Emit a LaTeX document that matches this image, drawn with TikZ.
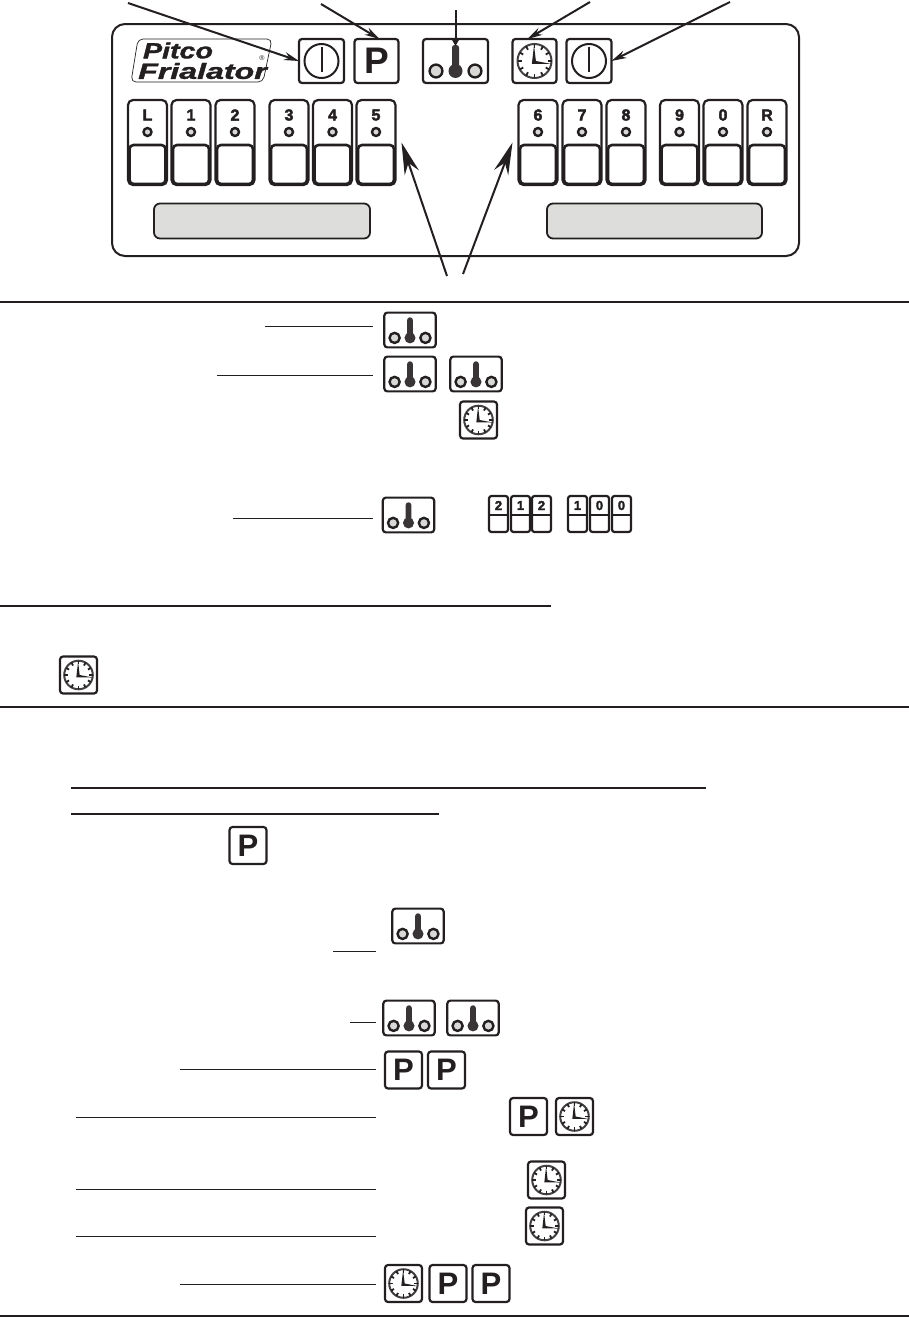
\documentclass[tikz,border=0pt]{standalone}
\usepackage{fontspec}
\setmainfont{Liberation Sans}
\newfontfamily\heavyfont[RawFeature={embolden=2.6}]{Liberation Sans Bold}
\newfontfamily\logofont[RawFeature={embolden=1.4}]{Liberation Sans Bold Italic}
\usetikzlibrary{arrows.meta}

\definecolor{inkdark}{HTML}{231F20}
\definecolor{bardgrey}{HTML}{DDDEDC}
\definecolor{ledgrey}{HTML}{D8D9D7}

\tikzset{
  keybox/.style={draw=inkdark, line width=2.2pt, rounded corners=3pt, inner sep=0pt, outer sep=0pt, transform shape},
  rulethick/.style={draw=inkdark, line width=2pt},
  leader/.style={draw=inkdark, line width=1pt},
  pointer/.style={draw=inkdark, line width=2pt, -{Stealth[length=15pt,width=8pt]}},
  shortpointer/.style={draw=inkdark, line width=2pt, -{Stealth[length=8pt,width=9pt]}},
  bigpointer/.style={draw=inkdark, line width=2pt, -{Stealth[length=32pt,width=15pt]}},
  digitlabel/.style={inner sep=0pt, text=inkdark, font=\heavyfont\fontsize{16}{16}\selectfont},
  logolabel/.style={inner sep=0pt, text=inkdark, transform shape, font=\logofont\fontsize{22}{22}\selectfont},
  pics/powerkey/.style={code={
    \node[keybox, minimum width=45pt, minimum height=44pt] (-box) at (0,0) {};
    \draw[inkdark, line width=2pt] (0,0) circle (17);
    \draw[inkdark, line width=2pt] (0,-14) -- (0,11);
  }},
  pics/progkey/.style={code={
    \node[keybox, minimum width=44pt, minimum height=44pt, text=inkdark, font=\bfseries\fontsize{37}{37}\selectfont] (-box) at (0,0) {P};
  }},
  pics/thermokey/.style={code={
    \node[keybox, minimum width=65pt, minimum height=44pt] (-box) at (0,0) {};
    \fill[inkdark!90, rounded corners=2.5pt] (-3.5,-16) rectangle (3.5,12);
    \fill[inkdark!90] (0,10) circle (7);
    \draw[inkdark, fill=ledgrey, line width=2.4pt] (-19.5,10) circle (6.4);
    \draw[inkdark, fill=ledgrey, line width=2.4pt] (19.5,10) circle (6.4);
  }},
  pics/clockkey/.style={code={
    \node[keybox, minimum width=44pt, minimum height=44pt] (-box) at (0,0) {};
    \draw[inkdark!85, line width=2pt] (0,0) circle (17);
    \foreach \a in {0,30,...,330} \draw[inkdark, line width=1.8pt] (\a:13) -- (\a:17);
    \fill[inkdark] (-2.6,2.8) -- (-0.5,-16) -- (1.4,0) -- (17,3) -- cycle;
  }},
  pics/numkey/.style={code={
    \node[keybox, minimum width=39pt, minimum height=85pt, rounded corners=5pt] (-box) at (0,0) {};
    \node[digitlabel] (-txt) at (0,-27.5) {#1};
    \draw[inkdark, fill=ledgrey, line width=2.4pt] (0,-10.5) circle (4);
    \draw[inkdark, line width=2.6pt, rounded corners=4pt] (-18,2.5) rectangle (18,41.5);
  }},
  pics/smallnum/.style={code={
    \node[keybox, minimum width=19pt, minimum height=36pt, rounded corners=2.5pt] (-box) at (0,0) {};
    \node[digitlabel, font=\heavyfont\fontsize{13}{13}\selectfont] (-txt) at (0,-8.5) {#1};
    \draw[inkdark, line width=1.8pt] (-9,1) -- (9,1);
  }},
}

\begin{document}
\begin{tikzpicture}[x=1pt,y=-1pt]
\useasboundingbox (0,0) rectangle (909,1317);

\draw[inkdark, line width=2pt, rounded corners=13pt] (112,24) rectangle (799,256);
\fill[bardgrey, draw=inkdark, line width=1.8pt, rounded corners=6pt] (154,203.5) rectangle (370,238.5);
\fill[bardgrey, draw=inkdark, line width=1.8pt, rounded corners=6pt] (547,203.5) rectangle (762,238.5);

\draw[inkdark, line width=0.7pt, rounded corners=5pt] (138,39) -- (272,39) -- (263,82) -- (131,82) -- cycle;
\node[logolabel, xscale=1.3] (logotop) at (178,50.5) {Pitco};
\node[logolabel, xscale=1.46] (logobottom) at (202.5,71) {Frialator};
\node[inner sep=0pt, text=inkdark, font=\fontsize{7}{7}\selectfont] (logomark) at (262,58) {®};

\pic (pw0) at (321.5,61) {powerkey};
\pic (p0) at (376.5,61) {progkey};
\pic (th0) at (455.5,61) {thermokey};
\pic (c0) at (534.5,61) {clockkey};
\pic (pw1) at (589,61) {powerkey};

\pic (kL) at (147.5,142.5) {numkey=L};
\pic (k1) at (191,142.5) {numkey=1};
\pic (k2) at (235,142.5) {numkey=2};
\pic (k3) at (289,142.5) {numkey=3};
\pic (k4) at (332.5,142.5) {numkey=4};
\pic (k5) at (376,142.5) {numkey=5};
\pic (k6) at (538,142.5) {numkey=6};
\pic (k7) at (582,142.5) {numkey=7};
\pic (k8) at (626,142.5) {numkey=8};
\pic (k9) at (679.5,142.5) {numkey=9};
\pic (k0) at (723,142.5) {numkey=0};
\pic (kR) at (767,142.5) {numkey=R};

\coordinate (a1) at (128,3);
\coordinate (a2) at (321,4);
\coordinate (a3) at (455.5,10);
\coordinate (a4) at (590,2);
\coordinate (a5) at (730,2);
\coordinate (a6) at (447,276);
\coordinate (a7) at (463,274);
\draw[pointer] (a1) -- (pw0-box.west);
\draw[pointer] (a2) -- ([xshift=3pt]p0-box.north);
\draw[shortpointer] (a3) -- ([yshift=-7pt]th0-box.north);
\draw[pointer] (a4) -- ([xshift=-7pt]c0-box.north);
\draw[pointer] (a5) -- (pw1-box.east);
\draw[bigpointer] (a6) -- ([xshift=6pt]k5-box.east);
\draw[bigpointer] (a7) -- ([xshift=-6pt]k6-box.west);

\draw[rulethick] (0,302) -- (909,302);
\draw[rulethick] (0,606) -- (551,606);
\draw[rulethick] (0,707) -- (909,707);
\draw[rulethick] (71,788) -- (706,788);
\draw[rulethick] (71,814) -- (439,814);
\draw[rulethick] (0,1316) -- (909,1316);


\pic (th1) at (410,330) [scale=.79] {thermokey};
\coordinate (l1a) at (265,326);
\coordinate (l1b) at (373,326);
\draw[leader] (l1a) -- (l1b);

\pic (th2) at (410,374) [scale=.79] {thermokey};
\pic (th3) at (476,374) [scale=.79] {thermokey};
\coordinate (l2a) at (217,375);
\coordinate (l2b) at (373,375);
\draw[leader] (l2a) -- (l2b);

\pic (c1) at (478.5,420) [scale=.84] {clockkey};

\pic (th4) at (408.5,515) [scale=.79] {thermokey};
\coordinate (l3a) at (233,518);
\coordinate (l3b) at (373,518);
\draw[leader] (l3a) -- (l3b);

\pic (n1) at (498.5,514) {smallnum=2};
\pic (n2) at (520.5,514) {smallnum=1};
\pic (n3) at (541.5,514) {smallnum=2};
\pic (n4) at (577.5,514) {smallnum=1};
\pic (n5) at (599.5,514) {smallnum=0};
\pic (n6) at (621.5,514) {smallnum=0};


\pic (c2) at (78.5,675) [scale=.84] {clockkey};


\pic (p1) at (248,845.5) [scale=.84] {progkey};

\pic (th5) at (418,926) [scale=.79] {thermokey};
\coordinate (l4a) at (333,951.5);
\coordinate (l4b) at (376,951.5);
\draw[leader] (l4a) -- (l4b);

\pic (th6) at (409,1018) [scale=.79] {thermokey};
\pic (th7) at (473,1018) [scale=.79] {thermokey};
\coordinate (l5a) at (350,1022);
\coordinate (l5b) at (376,1022);
\draw[leader] (l5a) -- (l5b);

\pic (p2) at (403.5,1070) [scale=.84] {progkey};
\pic (p3) at (446.5,1070) [scale=.84] {progkey};
\coordinate (l6a) at (180,1069);
\coordinate (l6b) at (376,1069);
\draw[leader] (l6a) -- (l6b);

\pic (p4) at (528.5,1116.5) [scale=.84] {progkey};
\pic (c3) at (574.5,1116.5) [scale=.84] {clockkey};
\coordinate (l7a) at (76,1117);
\coordinate (l7b) at (376,1117);
\draw[leader] (l7a) -- (l7b);

\pic (c4) at (546.5,1180) [scale=.84] {clockkey};
\coordinate (l8a) at (76,1189);
\coordinate (l8b) at (376,1189);
\draw[leader] (l8a) -- (l8b);

\pic (c5) at (544.5,1226) [scale=.84] {clockkey};
\coordinate (l9a) at (76,1236.5);
\coordinate (l9b) at (376,1236.5);
\draw[leader] (l9a) -- (l9b);

\pic (c6) at (403.5,1283.5) [scale=.84] {clockkey};
\pic (p5) at (448,1283.5) [scale=.84] {progkey};
\pic (p6) at (491,1283.5) [scale=.84] {progkey};
\coordinate (l10a) at (180,1284);
\coordinate (l10b) at (376,1284);
\draw[leader] (l10a) -- (l10b);

\end{tikzpicture}
\end{document}
